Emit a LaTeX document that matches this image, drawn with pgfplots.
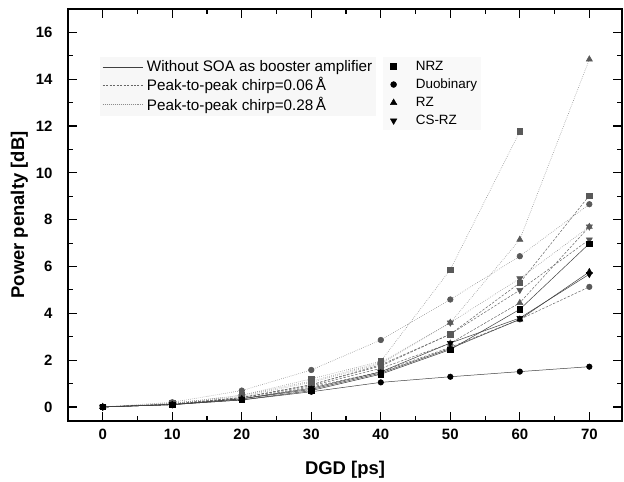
\documentclass[border=0pt]{standalone}
\usepackage{pgfplots}
\pgfplotsset{compat=1.18}
\usepackage{fontspec}
\setmainfont{Liberation Sans}

\definecolor{solidln}{gray}{0.25}
\definecolor{dashln}{gray}{0.40}
\definecolor{dotln}{gray}{0.55}
\definecolor{mkgray}{gray}{0.35}

\pgfplotsset{
  solidser/.style={solidln, line width=0.5pt, mark options={solid, fill=black, draw=black}},
  dashser/.style={dashln, line width=0.5pt, dash pattern=on 2.5pt off 1.5pt, mark options={solid, fill=mkgray, draw=mkgray}},
  dotser/.style={dotln, line width=0.6pt, dash pattern=on 0.6pt off 1.4pt, mark options={solid, fill=mkgray, draw=mkgray}},
  mNRZ/.style={mark=square*, mark size=2.7pt},
  mDB/.style={mark=*, mark size=2.8pt},
  mRZ/.style={mark=triangle*, mark size=3.5pt},
  mCS/.style={mark=triangle*, mark size=3.5pt, every mark/.append style={rotate=180}},
  common/.style={
    scale only axis, width=554bp, height=412bp,
    xmin=-5, xmax=74.7, ymin=-0.6, ymax=17,
  },
}

\begin{document}
\begin{tikzpicture}
\begin{axis}[common,
  axis line style={line width=1.2pt},
  xtick={0,10,...,70}, ytick={0,2,...,16},
  minor x tick num=1, minor y tick num=1,
  major tick length=9bp, minor tick length=5bp,
  tick style={black, line width=1.1pt},
  tick align=inside,
  ticklabel style={font=\fontsize{15}{17}\selectfont\bfseries},
  /pgf/number format/assume math mode=true,
  yticklabel style={xshift=-12bp},
  xticklabel style={yshift=-5bp},
  xlabel={DGD [ps]}, ylabel={Power penalty [dB]},
  label style={font=\fontsize{18.5}{20}\selectfont\bfseries},
  xlabel style={yshift=-14bp},
  ylabel style={yshift=1bp},
  legend style={at={(0.058,0.885)}, anchor=north west, fill=gray!6, draw=none,
    font=\fontsize{15.3}{17}\selectfont, row sep=0.5bp, column sep=2bp,
    inner xsep=2bp, inner ysep=2bp},
  legend cell align=left,
  legend image code/.code={\draw[#1] (0bp,0bp) -- (40bp,0bp);},
]
\coordinate (bl) at (rel axis cs:0,0);
\coordinate (tr) at (rel axis cs:1,1);
\addlegendimage{solidln, line width=0.6pt}
\addlegendentry{Without SOA as booster amplifier}
\addlegendimage{dashln, line width=0.5pt, dash pattern=on 2pt off 1.5pt}
\addlegendentry{Peak-to-peak chirp=0.06\,Å}
\addlegendimage{dotln, line width=0.6pt, dash pattern=on 0.6pt off 1.4pt}
\addlegendentry{Peak-to-peak chirp=0.28\,Å}

% chirp 0.28 A (dotted)
\addplot[dotser, mNRZ, forget plot] coordinates {(0,0) (10,0.15) (20,0.5) (30,1.2) (40,1.95) (50,5.87) (60,11.77)};
\addplot[dotser, mDB, forget plot] coordinates {(0,0) (10,0.2) (20,0.7) (30,1.58) (40,2.86) (50,4.59) (60,6.44) (70,8.66)};
\addplot[dotser, mRZ, forget plot] coordinates {(0,0) (10,0.15) (20,0.5) (30,1.1) (40,1.9) (50,3.6) (60,7.15) (70,14.85)};
\addplot[dotser, mCS, forget plot] coordinates {(0,0) (10,0.15) (20,0.45) (30,1.05) (40,1.85) (50,3.6) (60,5.49) (70,7.7)};
% chirp 0.06 A (dashed)
\addplot[dashser, mNRZ, forget plot] coordinates {(0,0) (10,0.12) (20,0.4) (30,0.95) (40,1.75) (50,3.11) (60,5.3) (70,9.03)};
\addplot[dashser, mDB, forget plot] coordinates {(0,0) (10,0.1) (20,0.35) (30,0.85) (40,1.5) (50,2.55) (60,3.74) (70,5.13)};
\addplot[dashser, mRZ, forget plot] coordinates {(0,0) (10,0.12) (20,0.4) (30,0.9) (40,1.65) (50,2.72) (60,4.45) (70,7.7)};
\addplot[dashser, mCS, forget plot] coordinates {(0,0) (10,0.12) (20,0.4) (30,0.95) (40,1.8) (50,3.11) (60,4.99) (70,7.15)};
% without SOA (solid)
\addplot[solidser, mNRZ, forget plot] coordinates {(0,0) (10,0.1) (20,0.3) (30,0.7) (40,1.4) (50,2.45) (60,4.17) (70,6.98)};
\addplot[solidser, mDB, forget plot] coordinates {(0,0) (10,0.1) (20,0.3) (30,0.65) (40,1.05) (50,1.29) (60,1.51) (70,1.72)};
\addplot[solidser, mRZ, forget plot] coordinates {(0,0) (10,0.1) (20,0.35) (30,0.75) (40,1.45) (50,2.5) (60,3.74) (70,5.77)};
\addplot[solidser, mCS, forget plot] coordinates {(0,0) (10,0.1) (20,0.35) (30,0.8) (40,1.5) (50,2.73) (60,3.8) (70,5.67)};
\end{axis}

\begin{axis}[common, hide axis,
  legend style={at={(0.569,0.884)}, anchor=north west, fill=gray!5, draw=none,
    font=\fontsize{13.5}{15}\selectfont, row sep=3.2bp, inner xsep=2bp, inner ysep=2bp},
  legend cell align=left,
  legend image code/.code={\path (-8bp,0bp) (20bp,0bp); \draw[#1] plot coordinates {(0bp,0bp)};},
]
\addlegendimage{only marks, mark=square*, mark size=3pt, black}
\addlegendentry{NRZ}
\addlegendimage{only marks, mark=*, mark size=3pt, black}
\addlegendentry{Duobinary}
\addlegendimage{only marks, mark=triangle*, mark size=3.8pt, black}
\addlegendentry{RZ}
\addlegendimage{only marks, mark=triangle*, mark size=3.8pt, black, mark options={rotate=180}}
\addlegendentry{CS-RZ}
\end{axis}
\pgfresetboundingbox
\path ([shift={(-68bp,-61bp)}]bl) rectangle ([shift={(2bp,9bp)}]tr);
\end{tikzpicture}
\end{document}
